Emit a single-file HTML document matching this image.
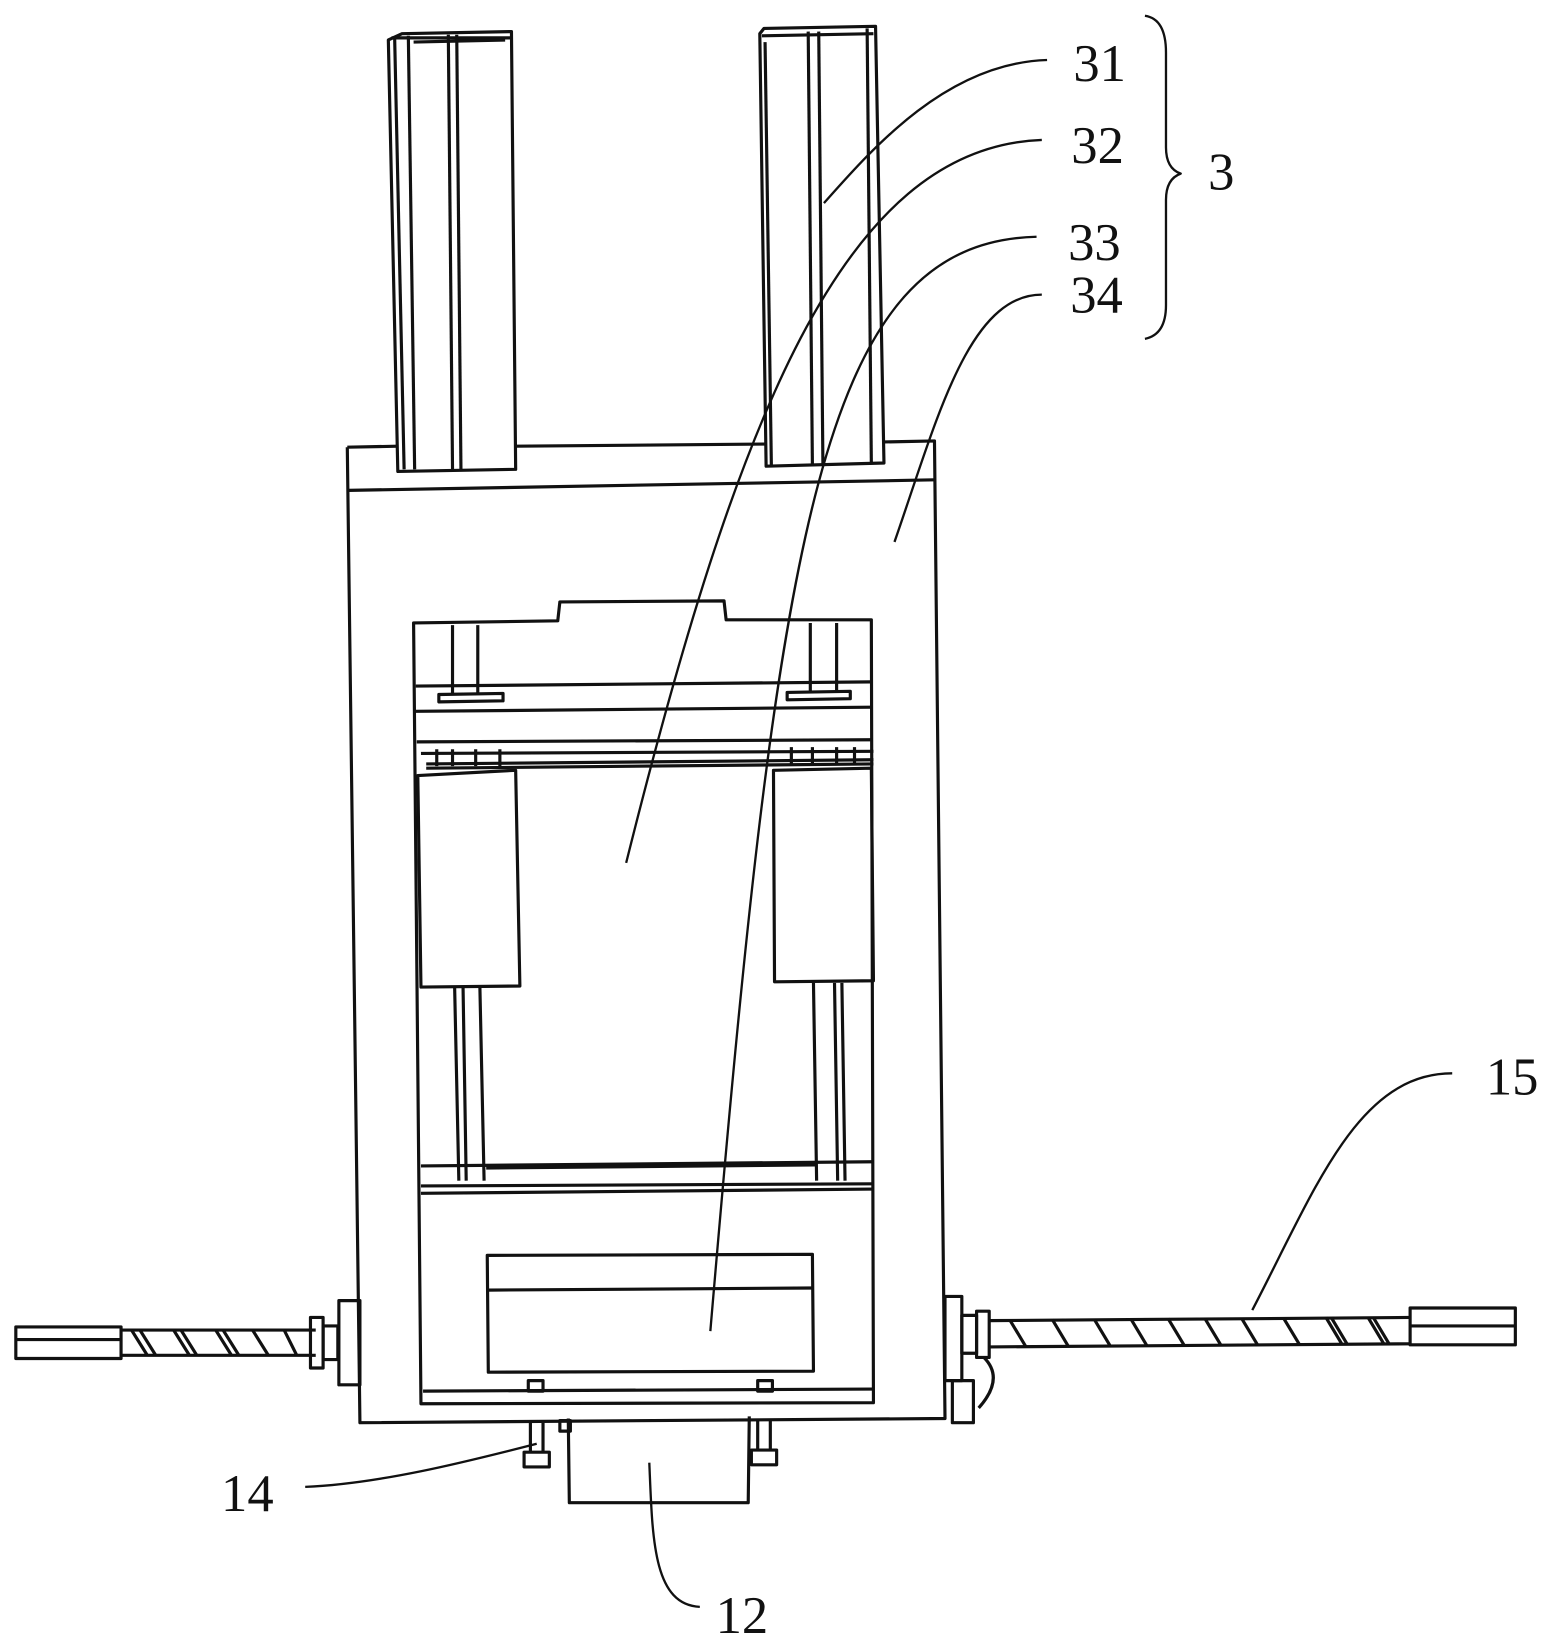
<!DOCTYPE html>
<html><head><meta charset="utf-8"><style>
html,body{margin:0;padding:0;background:#fff;}
svg{display:block;}
text{font-family:"Liberation Serif",serif;font-size:50px;fill:#111;}
</style></head><body>
<svg width="1568" height="1650" viewBox="0 0 1490 1568" xmlns="http://www.w3.org/2000/svg">
<g fill="none" stroke="#111" stroke-width="3" stroke-linejoin="round">
<!-- left column -->
<path d="M369 38 L378 448 L490 446 L486 30 L382 32 Z"/>
<path d="M375 36 L384 446"/><path d="M388 34 L394 446"/>
<path d="M426 33 L430 446"/><path d="M434 33 L438 446"/>
<path d="M372 36 L486 36"/>
<path d="M393 40 L480 38"/>
<!-- right column -->
<path d="M722 32 L728 443 L840 440 L832 25 L726 27 Z"/>
<path d="M727 40 L733 443"/><path d="M768 30 L772 443"/><path d="M778 30 L782 443"/>
<path d="M824 27 L828 440"/><path d="M724 34 L830 32"/>
<!-- main frame -->
<path d="M330 425 L378 424 M490 424 L728 422 M840 420 L888 419 L898 1348 L342 1352 L330 425"/>
<path d="M331 466 L888 456"/>
<!-- inner window -->
<path d="M393 592 L530 590 L532 572 L688 571 L690 589 L828 589 L830 1333 L400 1334 Z"/>
<!-- posts top -->
<path d="M430 594 L430 660 M454 594 L454 660"/>
<path d="M770 592 L770 658 M795 592 L795 658"/>
<path d="M417 660 L478 659 L478 666 L417 667 Z"/>
<path d="M748 658 L808 657 L808 664 L748 665 Z"/>
<!-- crossbar -->
<path d="M395 652 L828 648"/><path d="M395 676 L828 672"/><path d="M396 705 L829 703"/>
<path d="M400 716 L830 714"/>
<path d="M405 726 L830 722"/><path d="M405 730 L830 726"/>
<path d="M415 712 L415 728 M430 712 L430 728 M452 712 L452 728 M475 712 L475 728"/>
<path d="M752 710 L752 726 M772 710 L772 726 M795 710 L795 726 M812 710 L812 726"/>
<!-- side blocks -->
<path d="M397 737 L490 732 L494 937 L400 938 Z"/>
<path d="M735 732 L828 730 L830 932 L736 933 Z"/>
<!-- rods -->
<path d="M432 938 L436 1122 M440 938 L443 1122 M456 938 L460 1122"/>
<path d="M773 934 L776 1122 M793 934 L796 1122 M800 934 L803 1122"/>
<path d="M400 1108 L830 1104"/><path d="M462 1110 L775 1107"/>
<!-- bottom box -->
<path d="M400 1127 L830 1125"/><path d="M400 1134 L830 1130"/>
<path d="M463 1193 L772 1192 L773 1303 L464 1304 Z"/>
<path d="M463 1226 L772 1224"/>
<path d="M402 1322 L830 1320"/>
<!-- bolts -->
<path d="M502 1312 h14 v10 h-14 z"/><path d="M720 1312 h14 v10 h-14 z"/>
<path d="M504 1352 v28 h12 v-28 M498 1380 h24 v14 h-24 z"/>
<path d="M720 1350 v28 h12 v-28 M714 1378 h24 v14 h-24 z"/>
<path d="M532 1350 h10 v10 h-10 z"/>
<!-- bottom plate -->
<path d="M540 1348 L541 1428 L711 1428 L712 1346"/>
<!-- left screw -->
<path d="M15 1261 L115 1261 L115 1291 L15 1291 Z"/><path d="M15 1273 L115 1273"/>
<path d="M115 1264 L300 1264 M115 1288 L300 1288"/>
<path d="M125 1264 L140 1288 M133 1264 L148 1288 M165 1264 L180 1288 M172 1264 L187 1288 M205 1264 L220 1288 M212 1264 L227 1288 M240 1264 L255 1288 M270 1264 L282 1288"/>
<path d="M295 1252 h12 v48 h-12 z"/><path d="M307 1260 h14 v32 h-14 z"/>
<path d="M322 1236 h20 v80 h-20 z"/>
<!-- right screw -->
<path d="M898 1232 h16 v80 h-16 z"/><path d="M914 1250 h14 v36 h-14 z"/>
<path d="M928 1246 h12 v44 h-12 z"/>
<path d="M940 1255 L1340 1252 M940 1280 L1340 1277"/>
<path d="M960 1255 L975 1280 M1000 1254 L1015 1279 M1040 1254 L1055 1279 M1075 1254 L1090 1279 M1110 1253 L1125 1278 M1145 1253 L1160 1278 M1180 1253 L1195 1278 M1220 1253 L1235 1278 M1260 1252 L1275 1277 M1265 1252 L1280 1277 M1300 1252 L1315 1277 M1305 1252 L1320 1277"/>
<path d="M1340 1243 L1440 1243 L1440 1278 L1340 1278 Z"/><path d="M1340 1260 L1440 1260"/>
<path d="M905 1312 h20 v40 h-20 z"/>
<path d="M935 1290 q20 20 -5 48"/>
<!-- leaders -->
<path stroke-width="2.2" d="M995 57 C900 60 830 140 783 193"/>
<path stroke-width="2.2" d="M990 133 C800 140 700 400 595 820"/>
<path stroke-width="2.2" d="M985 225 C780 230 740 500 675 1265"/>
<path stroke-width="2.2" d="M990 280 C920 280 890 400 850 515"/>
<path stroke-width="2.2" d="M1380 1020 C1290 1020 1250 1130 1190 1245"/>
<path stroke-width="2.2" d="M290 1413 C360 1410 440 1390 510 1372"/>
<path stroke-width="2.2" d="M665 1527 C620 1525 620 1460 617 1390"/>
<!-- brace -->
<path stroke-width="2.2" d="M1088 15 Q1108 18 1108 50 L1108 140 Q1108 160 1122 165 Q1108 170 1108 190 L1108 290 Q1108 318 1088 322"/>
</g>
<text x="1020" y="77">31</text>
<text x="1018" y="155">32</text>
<text x="1015" y="247">33</text>
<text x="1017" y="297">34</text>
<text x="1148" y="180">3</text>
<text x="1412" y="1040">15</text>
<text x="210" y="1436">14</text>
<text x="680" y="1552">12</text>
</svg>
</body></html>
